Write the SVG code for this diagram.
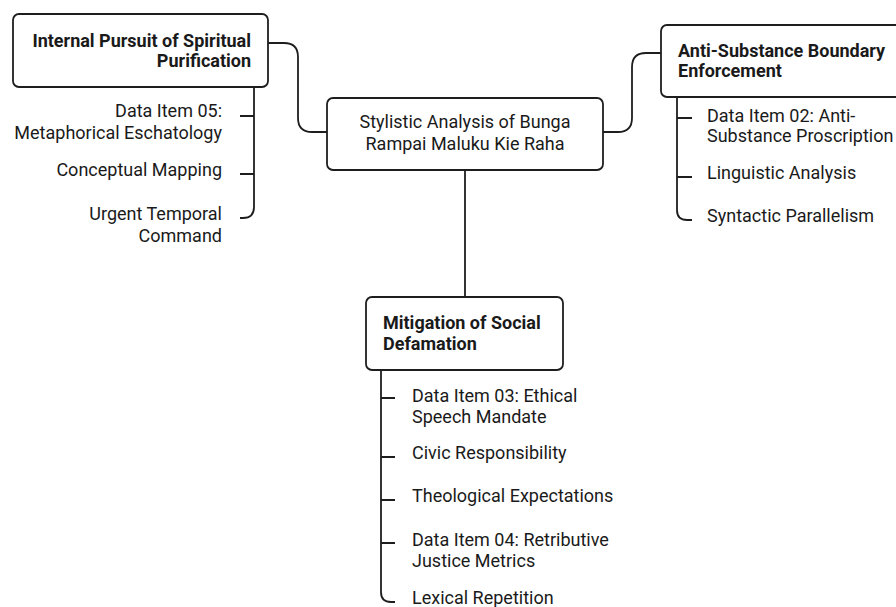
<svg xmlns="http://www.w3.org/2000/svg" width="896" height="607" viewBox="0 0 896 607">
<style>
.box{fill:#fff;stroke:#1e1e1e;stroke-width:1.8}
.ln{fill:none;stroke:#1e1e1e;stroke-width:1.8}
text{font-family:Roboto,"Liberation Sans",sans-serif;fill:#1a1a1a;font-size:18px}
.b{font-weight:bold;font-size:18px}
.r{text-anchor:end}
.c{text-anchor:middle}
</style>
<rect width="896" height="607" fill="#fff"/>
<g id="connectors">
<path class="ln" d="M268,43 H284 Q298,43 298,57 V118 Q298,132 312,132 H327"/>
<path class="ln" d="M603,132 H618 Q632,132 632,118 V67 Q632,53 646,53 H661"/>
<path class="ln" d="M465,170 V297"/>
<path class="ln" d="M254,87 V207 Q254,218 243,218 H240 M240,116 H254 M240,174 H254"/>
<path class="ln" d="M677,97 V210 Q677,220 687,220 H692 M677,118 H692 M677,177 H692"/>
<path class="ln" d="M381,370 V592 Q381,602 391,602 H395 M381,398 H395 M381,457 H395 M381,500 H395 M381,543 H395"/>
</g>
<g id="root">
<rect class="box" x="327" y="98" width="276" height="72" rx="6"/>
<text class="c" x="465" y="128">Stylistic Analysis of Bunga</text>
<text class="c" x="465" y="150">Rampai Maluku Kie Raha</text>
</g>
<g id="left">
<rect class="box" x="13" y="14" width="255" height="73" rx="6"/>
<text class="b r" x="251" y="47">Internal Pursuit of Spiritual</text>
<text class="b r" x="251" y="67">Purification</text>
</g>
<g id="left-items">
<text class="r" x="222" y="117">Data Item 05:</text>
<text class="r" x="222" y="139">Metaphorical Eschatology</text>
<text class="r" x="222" y="176">Conceptual Mapping</text>
<text class="r" x="222" y="220">Urgent Temporal</text>
<text class="r" x="222" y="242">Command</text>
</g>
<g id="right">
<rect class="box" x="661" y="25" width="250" height="72" rx="6"/>
<text class="b" x="678" y="57">Anti-Substance Boundary</text>
<text class="b" x="678" y="77">Enforcement</text>
</g>
<g id="right-items">
<text x="707" y="122">Data Item 02: Anti-</text>
<text x="707" y="142">Substance Proscription</text>
<text x="707" y="179">Linguistic Analysis</text>
<text x="707" y="222">Syntactic Parallelism</text>
</g>
<g id="bottom">
<rect class="box" x="366" y="297" width="197" height="73" rx="6"/>
<text class="b" x="383" y="329">Mitigation of Social</text>
<text class="b" x="383" y="350">Defamation</text>
</g>
<g id="bottom-items">
<text x="412" y="402">Data Item 03: Ethical</text>
<text x="412" y="423">Speech Mandate</text>
<text x="412" y="459">Civic Responsibility</text>
<text x="412" y="502">Theological Expectations</text>
<text x="412" y="546">Data Item 04: Retributive</text>
<text x="412" y="567">Justice Metrics</text>
<text x="412" y="604">Lexical Repetition</text>
</g>
</svg>
